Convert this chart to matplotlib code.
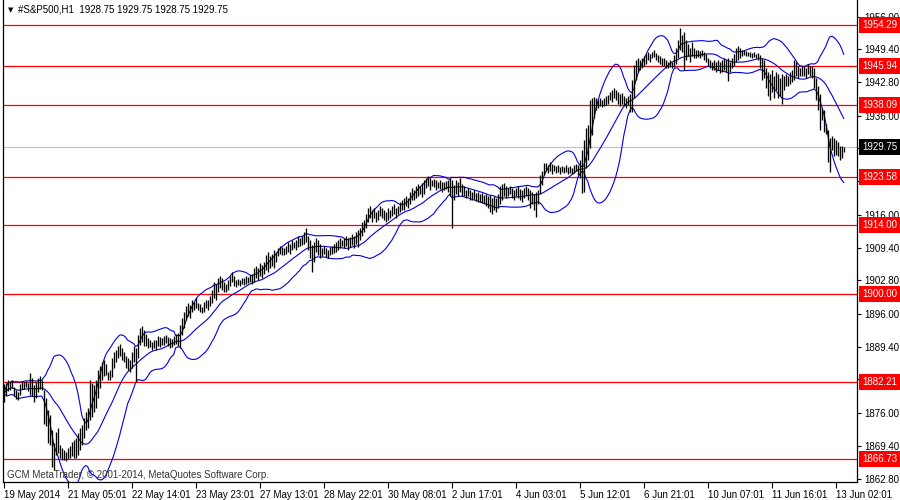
import numpy as np
import pandas as pd
import matplotlib
matplotlib.use('Agg')
import matplotlib.pyplot as plt
import matplotlib.transforms as mtransforms

plt.rcParams['font.family'] = ['Liberation Sans Narrow', 'Liberation Sans', 'DejaVu Sans']

# hourly bars, 19 May - 13 Jun 2014 (high / low)
highs = [
    1881.8, 1882.0, 1882.7, 1882.3, 1882.7, 1881.2, 1880.6, 1880.2, 1881.8, 1882.2,
    1882.2, 1882.4, 1882.0, 1884.1, 1883.1, 1881.6, 1882.3, 1883.1, 1883.5, 1882.7,
    1880.6, 1879.0, 1876.6, 1875.6, 1872.6, 1870.0, 1872.2, 1873.0, 1869.5, 1868.9,
    1868.5, 1868.1, 1868.9, 1869.3, 1870.1, 1870.6, 1871.0, 1872.0, 1873.0, 1873.6,
    1875.0, 1876.2, 1877.0, 1882.7, 1882.0, 1881.6, 1882.7, 1884.7, 1885.5, 1886.3,
    1886.7, 1885.9, 1884.3, 1884.7, 1887.1, 1888.3, 1888.7, 1889.5, 1889.9, 1889.1,
    1888.3, 1887.5, 1887.1, 1886.7, 1888.3, 1889.5, 1889.1, 1891.7, 1893.1, 1893.5,
    1892.8, 1892.0, 1891.1, 1890.7, 1890.3, 1890.7, 1890.7, 1891.5, 1891.3, 1891.1,
    1891.5, 1891.7, 1891.3, 1891.1, 1890.9, 1891.5, 1891.9, 1892.1, 1893.7, 1895.2,
    1896.4, 1897.6, 1898.2, 1897.8, 1898.8, 1898.4, 1899.2, 1898.2, 1898.0, 1897.4,
    1898.4, 1898.8, 1898.8, 1899.6, 1900.8, 1902.4, 1902.0, 1903.2, 1903.6, 1903.2,
    1902.4, 1902.0, 1902.8, 1903.6, 1904.5, 1903.6, 1902.8, 1903.0, 1902.8, 1903.2,
    1903.2, 1903.6, 1903.4, 1903.8, 1904.0, 1905.3, 1905.7, 1905.3, 1906.3, 1905.9,
    1906.5, 1907.9, 1908.5, 1907.7, 1908.1, 1908.9, 1908.5, 1909.3, 1909.7, 1909.5,
    1909.3, 1909.7, 1910.5, 1910.1, 1910.9, 1910.5, 1910.9, 1911.7, 1911.3, 1911.7,
    1912.5, 1913.3, 1911.7, 1910.9, 1909.9, 1910.5, 1911.3, 1910.9, 1910.1, 1909.3,
    1909.7, 1909.3, 1908.9, 1909.5, 1909.7, 1910.1, 1910.5, 1910.9, 1911.3, 1910.9,
    1911.3, 1911.7, 1911.3, 1911.5, 1912.1, 1911.7, 1912.5, 1912.9, 1913.3, 1914.6,
    1915.0, 1916.2, 1917.4, 1917.8, 1917.0, 1917.4, 1916.6, 1917.0, 1917.8, 1917.4,
    1917.0, 1916.6, 1917.4, 1917.0, 1917.8, 1918.2, 1917.4, 1917.8, 1918.6, 1919.0,
    1919.4, 1919.8, 1919.4, 1920.6, 1921.4, 1921.0, 1921.8, 1922.2, 1921.8, 1922.4,
    1923.0, 1923.4, 1923.8, 1923.4, 1923.0, 1923.2, 1923.0, 1922.6, 1923.0, 1922.6,
    1922.6, 1922.8, 1923.0, 1923.4, 1923.0, 1922.0, 1923.0, 1922.6, 1923.4, 1922.2,
    1921.8, 1921.0, 1921.4, 1921.0, 1920.6, 1921.0, 1920.4, 1920.6, 1920.2, 1920.4,
    1920.0, 1920.2, 1919.8, 1920.0, 1919.4, 1919.8, 1919.4, 1920.2, 1921.8, 1922.2,
    1922.4, 1921.8, 1921.4, 1921.8, 1921.4, 1921.0, 1921.4, 1921.8, 1921.2, 1921.0,
    1921.4, 1921.8, 1921.4, 1921.0, 1920.6, 1920.2, 1920.6, 1921.0, 1924.0, 1924.8,
    1926.5, 1926.5, 1926.1, 1926.7, 1926.3, 1926.1, 1925.9, 1926.1, 1925.7, 1925.9,
    1925.7, 1926.1, 1925.7, 1925.9, 1925.5, 1926.1, 1926.3, 1926.1, 1927.1, 1929.1,
    1931.1, 1933.5, 1934.1, 1939.2, 1939.6, 1939.8, 1939.6, 1939.2, 1939.6, 1939.2,
    1939.6, 1940.0, 1940.2, 1940.8, 1941.2, 1941.6, 1941.2, 1940.8, 1940.4, 1940.6,
    1940.0, 1939.6, 1940.0, 1940.4, 1943.2, 1946.2, 1947.2, 1947.6, 1947.2, 1947.6,
    1948.0, 1948.4, 1948.8, 1948.4, 1948.8, 1949.2, 1948.6, 1948.2, 1948.0, 1947.6,
    1947.6, 1947.2, 1946.8, 1947.2, 1946.8, 1948.2, 1949.6, 1951.3, 1953.7, 1952.3,
    1952.9, 1951.3, 1950.5, 1949.6, 1950.9, 1949.6, 1949.2, 1949.2, 1949.0, 1949.2,
    1948.8, 1948.4, 1947.6, 1947.2, 1946.8, 1947.2, 1946.8, 1947.2, 1946.8, 1947.2,
    1947.6, 1947.2, 1947.6, 1946.8, 1947.6, 1948.4, 1949.6, 1950.1, 1949.6, 1949.2,
    1949.2, 1949.0, 1948.8, 1948.8, 1948.6, 1948.8, 1948.4, 1948.6, 1948.2, 1947.6,
    1947.2, 1945.6, 1944.8, 1944.4, 1945.2, 1944.0, 1944.8, 1944.4, 1943.6, 1944.4,
    1944.0, 1944.4, 1944.0, 1944.8, 1945.2, 1947.2, 1946.8, 1946.0, 1945.6, 1946.0,
    1946.0, 1945.6, 1946.4, 1946.0, 1946.0, 1945.6, 1943.6, 1942.0, 1940.4, 1937.5,
    1937.1, 1934.3, 1933.1, 1931.5, 1931.9, 1931.5, 1931.1, 1930.7, 1929.9, 1929.9,
    1929.75,
]
lows = [
    1878.2, 1879.4, 1880.4, 1880.6, 1881.0, 1879.4, 1878.8, 1878.6, 1879.6, 1880.8,
    1880.8, 1881.2, 1880.4, 1879.7, 1879.4, 1878.2, 1879.0, 1880.2, 1880.8, 1880.6,
    1873.9, 1873.5, 1870.0, 1869.5, 1865.1, 1864.5, 1867.5, 1867.9, 1866.9, 1866.5,
    1866.5, 1866.3, 1866.7, 1866.9, 1867.3, 1866.9, 1866.9, 1867.5, 1868.5, 1869.5,
    1871.0, 1872.6, 1873.0, 1874.6, 1875.2, 1876.2, 1877.0, 1879.0, 1881.0, 1882.7,
    1883.5, 1883.7, 1882.7, 1882.7, 1883.3, 1885.1, 1886.3, 1887.1, 1887.5, 1886.7,
    1886.3, 1885.1, 1884.7, 1884.3, 1885.1, 1886.3, 1882.3, 1887.1, 1889.7, 1890.3,
    1889.5, 1889.5, 1889.1, 1889.3, 1888.7, 1889.1, 1888.7, 1889.5, 1889.3, 1889.7,
    1889.7, 1890.1, 1889.5, 1889.1, 1889.3, 1889.7, 1889.9, 1889.5, 1889.1, 1891.7,
    1893.2, 1894.8, 1895.6, 1895.2, 1896.4, 1896.8, 1897.2, 1896.8, 1896.4, 1896.2,
    1896.4, 1897.2, 1896.8, 1897.6, 1898.2, 1899.2, 1898.8, 1900.4, 1901.2, 1900.8,
    1900.4, 1900.4, 1900.8, 1901.6, 1902.4, 1901.6, 1901.4, 1901.8, 1901.6, 1902.0,
    1901.8, 1902.0, 1902.2, 1902.4, 1902.0, 1902.4, 1903.2, 1902.8, 1903.6, 1903.2,
    1904.1, 1904.9, 1904.5, 1905.3, 1905.7, 1905.3, 1906.5, 1907.7, 1908.1, 1907.9,
    1907.9, 1908.1, 1908.5, 1908.1, 1908.9, 1909.3, 1908.9, 1909.5, 1909.7, 1909.9,
    1910.1, 1910.5, 1908.9, 1907.3, 1904.5, 1906.5, 1908.5, 1907.9, 1907.3, 1907.7,
    1908.1, 1907.5, 1907.3, 1907.9, 1908.1, 1908.3, 1908.5, 1908.9, 1909.3, 1909.7,
    1909.3, 1909.7, 1908.9, 1909.5, 1909.9, 1909.3, 1910.1, 1909.5, 1910.9, 1911.7,
    1912.5, 1913.3, 1914.6, 1915.4, 1914.6, 1915.4, 1914.6, 1915.0, 1915.8, 1915.4,
    1915.0, 1914.6, 1915.0, 1915.4, 1915.8, 1916.2, 1915.4, 1916.2, 1916.6, 1917.0,
    1917.0, 1917.8, 1917.4, 1918.2, 1919.0, 1919.0, 1919.4, 1919.8, 1920.2, 1919.6,
    1920.2, 1921.4, 1921.8, 1921.0, 1921.8, 1921.6, 1921.0, 1921.4, 1921.2, 1920.6,
    1921.0, 1921.2, 1920.6, 1919.8, 1913.3, 1919.0, 1920.2, 1919.8, 1920.6, 1919.8,
    1919.8, 1919.4, 1919.8, 1919.0, 1919.0, 1919.2, 1918.8, 1918.6, 1918.6, 1918.4,
    1918.2, 1917.8, 1917.4, 1916.6, 1916.2, 1917.0, 1916.6, 1917.4, 1918.2, 1919.0,
    1919.8, 1919.4, 1919.8, 1920.2, 1919.4, 1919.0, 1919.8, 1919.4, 1919.0, 1918.6,
    1919.4, 1919.8, 1919.0, 1917.4, 1918.2, 1917.0, 1915.6, 1918.2, 1920.2, 1922.0,
    1924.0, 1924.8, 1924.4, 1924.8, 1924.2, 1924.8, 1924.4, 1924.6, 1924.2, 1924.6,
    1924.4, 1924.6, 1924.2, 1924.4, 1924.2, 1924.4, 1924.8, 1924.0, 1923.4, 1920.4,
    1920.6, 1925.5, 1927.1, 1929.5, 1932.1, 1935.5, 1937.1, 1937.5, 1937.9, 1937.7,
    1937.9, 1938.1, 1938.3, 1939.2, 1938.8, 1939.6, 1939.2, 1938.3, 1937.9, 1938.3,
    1937.9, 1937.5, 1938.1, 1936.7, 1936.7, 1939.6, 1943.2, 1944.8, 1945.2, 1945.6,
    1946.0, 1946.4, 1947.2, 1946.8, 1947.6, 1947.8, 1947.2, 1946.8, 1946.4, 1946.0,
    1946.0, 1945.6, 1945.6, 1945.8, 1945.6, 1945.8, 1946.4, 1947.6, 1949.2, 1948.8,
    1945.2, 1947.2, 1948.0, 1946.8, 1948.0, 1947.6, 1947.6, 1947.8, 1947.6, 1948.0,
    1947.2, 1946.8, 1946.0, 1945.6, 1945.2, 1945.2, 1944.8, 1945.2, 1944.6, 1944.8,
    1945.2, 1944.8, 1943.0, 1944.8, 1945.6, 1946.0, 1946.8, 1947.2, 1947.6, 1948.0,
    1948.2, 1948.0, 1948.0, 1947.8, 1947.6, 1947.8, 1947.6, 1947.2, 1945.6, 1943.2,
    1943.6, 1941.6, 1940.0, 1939.2, 1940.8, 1939.6, 1941.2, 1939.6, 1940.0, 1938.3,
    1941.2, 1942.0, 1942.0, 1942.4, 1942.8, 1943.2, 1944.0, 1943.6, 1944.0, 1944.0,
    1944.0, 1943.6, 1944.4, 1944.0, 1943.6, 1941.6, 1939.2, 1937.1, 1933.1, 1935.1,
    1932.7, 1932.3, 1926.6, 1924.6, 1929.1, 1927.9, 1928.1, 1927.9, 1927.1, 1927.5,
    1928.75,
]

# horizontal levels drawn on the chart
level_prices = [1954.29, 1945.94, 1938.09, 1923.58, 1914.00, 1900.00, 1882.21, 1866.73]
bid_price = 1929.75

ytick_values = [1956.00, 1949.40, 1942.80, 1936.00, 1929.40, 1922.80, 1916.00, 1909.40,
                1902.80, 1896.00, 1889.40, 1882.80, 1876.00, 1869.40, 1862.80]
xtick_bars = [0, 32, 64, 96, 128, 160, 192, 224, 256, 288, 320, 352, 384, 416]
xtick_labels = ['19 May 2014', '21 May 05:01', '22 May 14:01', '23 May 23:01',
                '27 May 13:01', '28 May 22:01', '30 May 08:01', '2 Jun 17:01',
                '4 Jun 03:01', '5 Jun 12:01', '6 Jun 21:01', '10 Jun 07:01',
                '11 Jun 16:01', '13 Jun 02:01']

header = '#S&P500,H1  1928.75 1929.75 1928.75 1929.75'
copyright_txt = 'GCM MetaTrader, \u00a9 2001-2014, MetaQuotes Software Corp.'

# Bollinger bands (20, 2) on the bar midpoints
df = pd.DataFrame({'high': highs, 'low': lows})
mid = (df['high'] + df['low']) / 2
ma = mid.rolling(20, min_periods=1).mean()
sd = mid.rolling(20, min_periods=1).std(ddof=0)
upper = ma + 2 * sd
lower = ma - 2 * sd
x = np.arange(len(df))

fig = plt.figure(figsize=(9, 5), dpi=100)
ax = fig.add_axes([3 / 900, 18 / 500, 854 / 900, 482 / 500])

blue = '#0000E6'
for p in level_prices:
    ax.axhline(p, color='#FF0000', lw=0.9, zorder=1)
ax.axhline(bid_price, color='#C0C0C0', lw=0.8, zorder=1)

ax.plot(x, ma, color=blue, lw=0.8, zorder=2)
ax.plot(x, upper, color=blue, lw=0.8, zorder=2)
ax.plot(x, lower, color=blue, lw=0.8, zorder=2)
ax.vlines(x, df['low'], df['high'], color='black', lw=0.95, zorder=3)

ax.set_xlim(-0.35, 426.65)
ax.set_ylim(1862.11, 1959.33)

ax.spines['top'].set_visible(False)
for s in ['left', 'right', 'bottom']:
    ax.spines[s].set_linewidth(0.9)

# the 1929.40 label sits fully under the bid box, so only its tick shows
ax.yaxis.tick_right()
ax.set_yticks(ytick_values)
ax.set_yticklabels(['' if v == 1929.40 else '%.2f' % v for v in ytick_values])
ax.tick_params(axis='y', direction='out', length=3, width=0.8, labelsize=7, pad=2)

ax.set_xticks(xtick_bars)
ax.set_xticklabels(xtick_labels, ha='left')
ax.tick_params(axis='x', direction='out', length=4, width=0.8, labelsize=7, pad=2)

# price labels on the right axis
trans = mtransforms.blended_transform_factory(ax.transAxes, ax.transData)
lx = 1 + 5 / 854
for p in level_prices:
    ax.text(lx, p, '%.2f' % p, transform=trans, color='white', fontsize=7,
            va='center', ha='left', clip_on=False, zorder=5,
            bbox=dict(boxstyle='square,pad=0.3', fc='#FF0000', ec='none'))
ax.text(lx, bid_price, '%.2f' % bid_price, transform=trans, color='white', fontsize=7,
        va='center', ha='left', clip_on=False, zorder=5,
        bbox=dict(boxstyle='square,pad=0.3', fc='black', ec='none'))

fig.text(8 / 900, 1 - 10 / 500, '\u25bc', family='DejaVu Sans', fontsize=5, va='center')
fig.text(18 / 900, 1 - 10 / 500, header, fontsize=7, va='center')
fig.text(7 / 900, 1 - 475 / 500, copyright_txt, fontsize=7, va='center', color='#333333')

fig.savefig('out.png', dpi=100)
